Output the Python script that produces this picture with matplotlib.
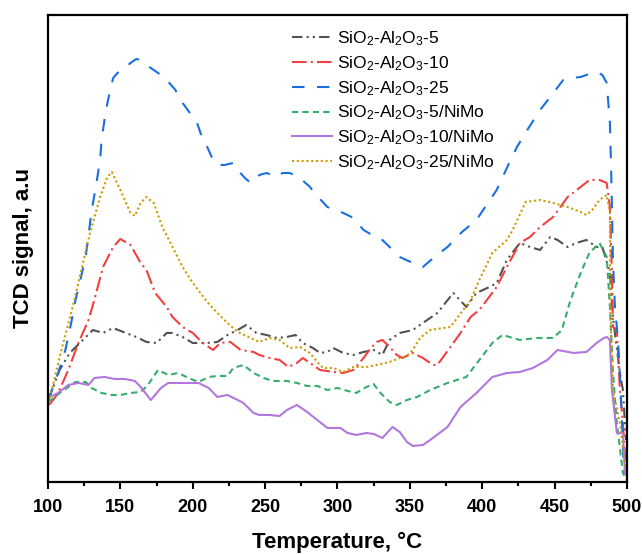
import matplotlib
matplotlib.use("Agg")
import matplotlib.pyplot as plt
from matplotlib.ticker import MultipleLocator

plt.rcParams['font.family'] = ['Liberation Sans', 'DejaVu Sans']
plt.rcParams['mathtext.fontset'] = 'custom'
plt.rcParams['mathtext.rm'] = 'Liberation Sans'
plt.rcParams['mathtext.it'] = 'Liberation Sans:italic'
plt.rcParams['mathtext.bf'] = 'Liberation Sans:bold'

# TPD profiles (temperature in C, signal in a.u.)
t_5 = [100, 101, 108, 115, 122, 131, 138, 145, 152, 161, 168, 175, 182, 186, 193, 200,
       210, 217, 224, 231, 237, 244, 251, 258, 265, 271, 276, 283, 288, 293, 297, 304,
       311, 318, 325, 331, 336, 343, 352, 359, 369, 380, 389, 396, 405, 410, 417, 426,
       433, 440, 447, 452, 459, 465, 472, 479, 483, 488.2, 490.3, 495.1, 497.2, 499.3]
s_5 = [0.82, 0.85, 1.12, 1.29, 1.39, 1.52, 1.49, 1.54, 1.50, 1.45, 1.40, 1.39, 1.49, 1.49, 1.45, 1.39,
       1.39, 1.40, 1.47, 1.52, 1.57, 1.49, 1.47, 1.44, 1.45, 1.47, 1.39, 1.34, 1.29, 1.30, 1.34, 1.29,
       1.27, 1.30, 1.32, 1.27, 1.42, 1.49, 1.52, 1.59, 1.69, 1.89, 1.75, 1.89, 1.95, 1.99, 2.22, 2.39,
       2.35, 2.32, 2.45, 2.42, 2.35, 2.39, 2.42, 2.35, 2.35, 2.09, 1.65, 1.09, 0.92, 0.42]

t_10 = [100, 102, 107, 114, 121, 128, 132, 138, 145, 150, 157, 164, 168, 174, 182, 186,
        193, 200, 207, 214, 219, 226, 233, 242, 246, 253, 260, 266, 272, 276, 283, 288,
        297, 304, 311, 318, 322, 327, 331, 336, 341, 345, 352, 359, 366, 369, 378, 385,
        392, 398, 410, 417, 426, 433, 440, 449, 459, 468, 474, 481, 486, 488.2, 489.6,
        490.3, 493, 495.1, 497.2, 499.3]
s_10 = [0.77, 0.79, 0.89, 1.12, 1.39, 1.62, 1.82, 2.15, 2.35, 2.43, 2.37, 2.19, 2.12, 1.89, 1.75, 1.65,
        1.55, 1.49, 1.39, 1.32, 1.39, 1.40, 1.32, 1.30, 1.27, 1.24, 1.22, 1.15, 1.19, 1.24, 1.17, 1.12,
        1.10, 1.09, 1.12, 1.24, 1.32, 1.40, 1.42, 1.35, 1.27, 1.24, 1.29, 1.24, 1.17, 1.17, 1.35, 1.49,
        1.65, 1.72, 1.95, 2.15, 2.39, 2.45, 2.55, 2.65, 2.85, 2.95, 3.02, 3.02, 2.99, 2.75, 2.09,
        1.55, 1.52, 0.92, 0.59, 0.12]

t_25 = [100, 102, 107, 112, 116, 119, 122, 126, 128, 130, 133, 136, 137, 140, 143, 145,
        148, 153, 157, 161, 164, 167, 170, 176, 182, 188, 193, 198, 203, 207, 210, 214,
        217, 222, 228, 231, 236, 240, 243, 246, 251, 258, 262, 267, 274, 281, 284, 293,
        298, 304, 311, 318, 325, 331, 336, 343, 352, 359, 367, 376, 386, 396, 403, 410,
        417, 424, 432, 440, 448, 456, 462, 468, 474, 479, 483, 486, 488.2, 488.9, 489.6,
        490.3, 491.7, 493.8, 495.1, 496.5, 497.9]
s_25 = [0.82, 0.89, 1.09, 1.32, 1.59, 1.82, 2.00, 2.25, 2.47, 2.70, 2.95, 3.22, 3.42, 3.72, 3.92, 4.04,
        4.09, 4.14, 4.19, 4.23, 4.22, 4.19, 4.15, 4.09, 4.02, 3.92, 3.79, 3.69, 3.59, 3.42, 3.35, 3.22,
        3.17, 3.17, 3.19, 3.12, 3.04, 2.99, 3.02, 3.07, 3.09, 3.05, 3.09, 3.09, 3.04, 2.95, 2.89, 2.75,
        2.72, 2.69, 2.64, 2.52, 2.46, 2.42, 2.35, 2.25, 2.19, 2.15, 2.25, 2.35, 2.50, 2.62, 2.77, 2.92,
        3.14, 3.35, 3.54, 3.72, 3.87, 4.02, 4.04, 4.05, 4.08, 4.10, 4.07, 3.99, 3.59, 3.22, 2.75,
        2.22, 1.75, 1.42, 1.09, 0.62, 0.09]

t_5nimo = [100, 102, 109, 119, 126, 130, 137, 144, 150, 157, 164, 169, 176, 183, 190, 197,
           204, 211, 217, 224, 228, 235, 242, 249, 255, 265, 272, 279, 286, 293, 300, 307,
           313, 320, 325, 329, 336, 341, 348, 355, 364, 376, 389, 398, 407, 414, 426, 438,
           449, 455, 461, 468, 474, 481, 486, 488.2, 490.3, 493, 497.2, 500]
s_5nimo = [0.80, 0.82, 0.90, 1.00, 1.00, 0.94, 0.89, 0.87, 0.87, 0.89, 0.90, 0.97, 1.12, 1.07, 1.09, 1.04,
           1.00, 1.05, 1.06, 1.06, 1.14, 1.17, 1.09, 1.04, 1.01, 1.01, 0.99, 0.96, 0.96, 0.92, 0.94, 0.91,
           0.89, 0.95, 0.98, 0.90, 0.80, 0.77, 0.82, 0.85, 0.92, 0.99, 1.05, 1.22, 1.39, 1.47, 1.42, 1.44,
           1.44, 1.52, 1.82, 2.09, 2.29, 2.39, 2.25, 1.75, 1.09, 0.59, 0.09, 0.02]

t_10nimo = [100, 107, 114, 121, 128, 132, 139, 146, 153, 160, 164, 171, 178, 183, 190, 197,
            204, 211, 217, 224, 231, 235, 242, 246, 253, 260, 265, 272, 279, 286, 293, 302,
            307, 313, 320, 325, 331, 338, 343, 348, 352, 359, 364, 376, 385, 396, 407, 417,
            426, 435, 445, 452, 463, 472, 479, 484, 486, 488.2, 489.6, 493, 497.2, 498.6]
s_10nimo = [0.84, 0.89, 0.97, 0.99, 0.97, 1.04, 1.05, 1.03, 1.03, 1.01, 0.95, 0.82, 0.94, 0.99, 0.99, 0.99,
            0.99, 0.94, 0.85, 0.87, 0.82, 0.79, 0.69, 0.67, 0.67, 0.66, 0.72, 0.77, 0.70, 0.62, 0.54, 0.54,
            0.49, 0.47, 0.49, 0.48, 0.44, 0.55, 0.50, 0.40, 0.36, 0.37, 0.42, 0.55, 0.75, 0.89, 1.05, 1.09,
            1.10, 1.14, 1.22, 1.32, 1.29, 1.30, 1.39, 1.44, 1.45, 1.42, 0.92, 0.49, 0.49, 0.09]

t_25nimo = [100, 101, 108, 117, 129, 136, 141, 144, 150, 157, 160, 164, 168, 173, 179, 186,
            193, 200, 210, 217, 224, 231, 240, 246, 253, 260, 267, 274, 281, 286, 290, 297,
            304, 311, 320, 327, 336, 343, 348, 352, 357, 364, 378, 392, 398, 407, 417, 421,
            430, 440, 449, 459, 468, 472, 476, 481, 486, 488.2, 488.5, 490.3, 495.1, 500]
s_25nimo = [0.80, 0.82, 1.25, 1.75, 2.49, 2.85, 3.05, 3.10, 2.92, 2.69, 2.66, 2.79, 2.85, 2.79, 2.55, 2.35,
            2.15, 1.99, 1.80, 1.69, 1.59, 1.50, 1.44, 1.40, 1.44, 1.42, 1.34, 1.35, 1.29, 1.20, 1.14, 1.14,
            1.10, 1.15, 1.15, 1.17, 1.20, 1.24, 1.26, 1.32, 1.44, 1.52, 1.55, 1.82, 2.02, 2.29, 2.42, 2.52,
            2.80, 2.82, 2.79, 2.75, 2.70, 2.67, 2.72, 2.82, 2.87, 2.69, 1.75, 0.92, 0.59, 0.02]

labels = [r'SiO$_2$-Al$_2$O$_3$-5', r'SiO$_2$-Al$_2$O$_3$-10', r'SiO$_2$-Al$_2$O$_3$-25',
          r'SiO$_2$-Al$_2$O$_3$-5/NiMo', r'SiO$_2$-Al$_2$O$_3$-10/NiMo', r'SiO$_2$-Al$_2$O$_3$-25/NiMo']

fig = plt.figure(figsize=(6.42, 5.54), dpi=100)
ax = fig.add_axes([0.0748, 0.130, 0.9018, 0.843])

lw = 1.5
ax.plot(t_5, s_5, color='#515151', lw=lw, ls=(0, (5, 2, 1, 2, 1, 2)), label=labels[0])
ax.plot(t_10, s_10, color='#F14040', lw=lw, ls=(0, (7, 2, 1, 2)), label=labels[1])
ax.plot(t_25, s_25, color='#1A6FDF', lw=lw, ls=(0, (6, 6)), label=labels[2])
ax.plot(t_5nimo, s_5nimo, color='#37AD6B', lw=lw, ls=(0, (3, 2)), label=labels[3])
ax.plot(t_10nimo, s_10nimo, color='#B177DE', lw=lw, ls='-', label=labels[4])
ax.plot(t_25nimo, s_25nimo, color='#CC9900', lw=lw, ls=(0, (1, 1.3)), label=labels[5])

ax.set_xlim(100, 500)
ax.set_ylim(0, 4.67)
ax.xaxis.set_major_locator(MultipleLocator(50))
ax.xaxis.set_minor_locator(MultipleLocator(25))
ax.set_yticks([])
ax.tick_params(axis='x', which='major', direction='out', length=5, width=1.5, pad=7, labelsize=13)
ax.tick_params(axis='x', which='minor', direction='out', length=3, width=1.5)
for lab in ax.get_xticklabels():
    lab.set_fontweight('bold')
for sp in ax.spines.values():
    sp.set_linewidth(1.6)

ax.set_xlabel('Temperature, °C', fontsize=16, fontweight='bold', labelpad=12)
ax.set_ylabel('TCD signal, a.u', fontsize=16, fontweight='bold', labelpad=10)

ax.legend(loc='upper left', bbox_to_anchor=(0.421, 0.969), frameon=False, fontsize=12.5,
          handlelength=2.3, handletextpad=0.3, labelspacing=0.35, borderpad=0, borderaxespad=0)

fig.savefig('out.png', dpi=100)
